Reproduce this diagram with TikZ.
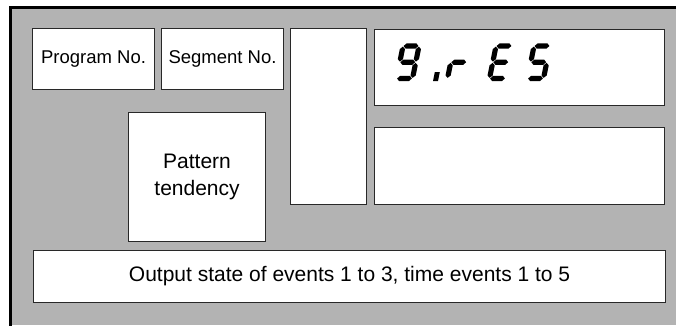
\documentclass[tikz,border=0pt]{standalone}
\usepackage{fontspec}
\setmainfont{Liberation Sans}
\definecolor{panelgray}{RGB}{179,179,179}
\definecolor{edgegray}{RGB}{40,40,40}
\newcommand\sgH[1]{\fill[segfill] (0.6,#1) -- (3.1,#1+2.6) -- (12.9,#1+2.6) -- (15.4,#1) -- (12.9,#1-2.6) -- (3.1,#1-2.6) -- cycle;}
\newcommand\sgV[3]{\fill[segfill] (#1,#2+0.6) -- (#1+2.6,#2+3.1) -- (#1+2.6,#3-3.1) -- (#1,#3-0.6) -- (#1-2.6,#3-3.1) -- (#1-2.6,#2+3.1) -- cycle;}
\newcommand\sgA{\sgH{32.5}}
\newcommand\sgG{\sgH{16.25}}
\newcommand\sgD{\sgH{0}}
\newcommand\sgF{\sgV{0}{16.25}{32.5}}
\newcommand\sgB{\sgV{16}{16.25}{32.5}}
\newcommand\sgE{\sgV{0}{0}{16.25}}
\newcommand\sgC{\sgV{16}{0}{16.25}}
\begin{document}
\begin{tikzpicture}[x=1pt,y=1pt,
  segfill/.style={fill=black},
  panelbox/.style={draw=edgegray,line width=1.1pt,fill=white,inner sep=0pt,anchor=south west},
  smalltext/.style={font=\fontsize{18.5}{22}\selectfont},
  bigtext/.style={font=\fontsize{21}{27}\selectfont,align=center}]
\useasboundingbox (0,0) rectangle (676,325);
\fill[panelgray] (10,0) rectangle (676,318);
\draw[line width=2.5pt,line cap=rect] (10.5,0) -- (10.5,317.5) -- (676,317.5);
% boxes
\node[panelbox,minimum width=122pt,minimum height=61pt,smalltext] (prog) at (32,235) {Program No.};
\node[panelbox,minimum width=122pt,minimum height=61pt,smalltext] (seg) at (161,235) {Segment No.};
\node[panelbox,minimum width=76pt,minimum height=176pt] (tall) at (290,120) {};
\node[panelbox,minimum width=290pt,minimum height=76pt] (disp) at (374,219) {};
\node[panelbox,minimum width=290pt,minimum height=77pt] (lower) at (374,120) {};
\node[panelbox,minimum width=137pt,minimum height=129pt,bigtext] (pat) at (128,83) {Pattern\\tendency};
\node[panelbox,minimum width=632pt,minimum height=52pt,bigtext] (out) at (33,22) {Output state of events 1 to 3, time events 1 to 5};
% seven-segment text "9.rES"
\begin{scope}[shift={(396.5,246.5)},xslant=0.2]
  \sgA\sgB\sgC\sgD\sgF\sgG
\end{scope}
\begin{scope}[shift={(433,244)},xslant=0.2]
  \fill[segfill] (0,0) rectangle (5,9);
\end{scope}
\begin{scope}[shift={(447.5,246.5)},xslant=0.2]
  \sgE\sgG
\end{scope}
\begin{scope}[shift={(489.5,246.5)},xslant=0.2]
  \sgA\sgD\sgE\sgF\sgG
\end{scope}
\begin{scope}[shift={(527.5,246.5)},xslant=0.2]
  \sgA\sgC\sgD\sgF\sgG
\end{scope}
\end{tikzpicture}
\end{document}
